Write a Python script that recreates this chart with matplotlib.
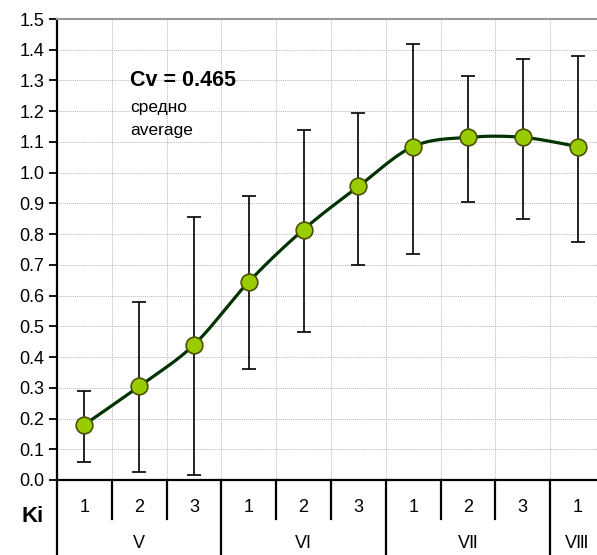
import numpy as np
import matplotlib.pyplot as plt

plt.rcParams['font.family'] = ['Liberation Sans', 'DejaVu Sans']

# data
sub_labels = ["1", "2", "3", "1", "2", "3", "1", "2", "3", "1"]
groups = ["V", "VI", "V\u2161", "V\u2162"]
group_spans = [(0, 2), (3, 5), (6, 8), (9, 9)]
means = [0.18, 0.305, 0.44, 0.645, 0.815, 0.955, 1.085, 1.115, 1.115, 1.085]
upper = [0.29, 0.58, 0.855, 0.925, 1.14, 1.195, 1.42, 1.315, 1.37, 1.38]
lower = [0.06, 0.025, 0.015, 0.36, 0.48, 0.70, 0.735, 0.905, 0.85, 0.775]

x = np.arange(len(means))
y = np.array(means)


def smooth(px, py, n=30):
    # Excel-style smoothed line (Bezier through the points)
    P = np.column_stack([px, py]).astype(float)
    P = np.vstack([P[0], P, P[-1]])
    out = []
    t = np.linspace(0, 1, n)[:, None]
    for i in range(1, len(P) - 2):
        p0, p3 = P[i], P[i + 1]
        p1 = p0 + (P[i + 1] - P[i - 1]) / 6
        p2 = p3 - (P[i + 2] - P[i]) / 6
        seg = (1 - t) ** 3 * p0 + 3 * (1 - t) ** 2 * t * p1 + 3 * (1 - t) * t ** 2 * p2 + t ** 3 * p3
        out.append(seg)
    out = np.vstack(out)
    return out[:, 0], out[:, 1]


fig = plt.figure(figsize=(5.97, 5.55), dpi=100)
ax = fig.add_axes([57 / 597, 75 / 555, 548 / 597, 461 / 555])

ax.set_xlim(-0.5, 9.5)
ax.set_ylim(0, 1.5)
ax.set_yticks(np.arange(0, 1.51, 0.1))
ax.set_yticklabels([f"{v:.1f}" for v in np.arange(0, 1.51, 0.1)], fontsize=13)
ax.set_xticks([])

for v in np.arange(0.1, 1.45, 0.1):
    ax.axhline(v, color="#b8b8b8", lw=0.7, ls=(0, (1, 1)), zorder=0)
for b in np.arange(0.5, 9.0, 1.0):
    ax.axvline(b, color="#b8b8b8", lw=0.7, ls=(0, (1, 1)), zorder=0)

ax.spines["right"].set_visible(False)
ax.spines["top"].set_color("#999999")
ax.spines["top"].set_linewidth(1.5)
ax.spines["left"].set_linewidth(1.6)
ax.spines["bottom"].set_linewidth(1.6)
ax.tick_params(axis="y", direction="out", length=6, width=1.3, pad=3)

lo = y - np.array(lower)
hi = np.array(upper) - y
ax.errorbar(x, y, yerr=[lo, hi], fmt="none", ecolor="black", elinewidth=1.2,
            capsize=5, capthick=1.2, zorder=2)

sx, sy = smooth(x, y)
ax.plot(sx, sy, color="#003300", lw=2.3, zorder=3)
ax.plot(x, y, "o", ms=12, mfc="#99cc00", mec="#4a5200", mew=1.2, zorder=4)

ax.text(0.83, 1.3, "Cv = 0.465", fontsize=15.5, fontweight="bold", va="center")
ax.text(0.83, 1.213, "средно", fontsize=12.5, va="center")
ax.text(0.83, 1.138, "average", fontsize=12.5, va="center")

# category table under the axis
tr = ax.get_xaxis_transform()
ax_h = 461.0
sub_bot = -(519 - 480) / ax_h
fig_bot = -(555 - 480) / ax_h
for b in [0.5, 1.5, 3.5, 4.5, 6.5, 7.5]:
    ax.plot([b, b], [0, sub_bot], transform=tr, color="black", lw=1.6, clip_on=False)
for b in [-0.5, 2.5, 5.5, 8.5]:
    ax.plot([b, b], [0, fig_bot - 0.01], transform=tr, color="black", lw=1.6, clip_on=False)
for i, lab in enumerate(sub_labels):
    ax.text(i, -(507 - 480) / ax_h, lab, transform=tr, ha="center", va="center", fontsize=13)
for lab, (a, b) in zip(groups, group_spans):
    ax.text((a + b) / 2, -(543 - 480) / ax_h, lab, transform=tr, ha="center", va="center", fontsize=13)
fig.text(33 / 597, 1 - 516 / 555, "Ki", fontsize=16, fontweight="bold", ha="center", va="center")

fig.savefig("out.png", dpi=100)
